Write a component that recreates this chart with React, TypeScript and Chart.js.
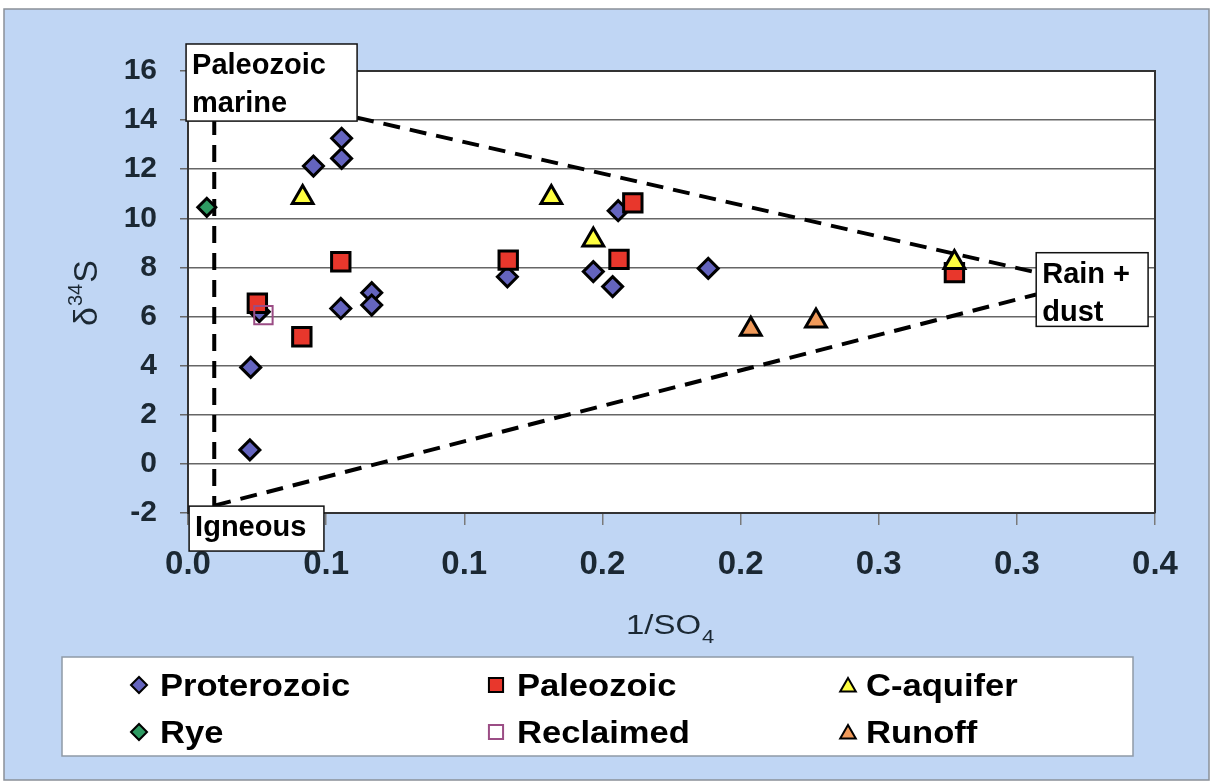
import React, { useEffect, useRef } from 'react';
import { Chart, registerables } from 'chart.js';

Chart.register(...registerables);

// ---------- data ----------
const proterozoicX = [0.0454, 0.0556, 0.0556, 0.1156, 0.0665, 0.0665, 0.0553, 0.0258, 0.0227, 0.0224, 0.1557, 0.1467, 0.1537, 0.1883];
const proterozoicY = [12.13, 13.26, 12.44, 7.62, 6.97, 6.47, 6.33, 6.2, 3.93, 0.57, 10.31, 7.83, 7.22, 7.96];

const paleozoicX = [0.0251, 0.0412, 0.0553, 0.1159, 0.161, 0.156, 0.2774];
const paleozoicY = [6.54, 5.18, 8.23, 8.3, 10.63, 8.33, 7.79];

const cAquiferX = [0.0415, 0.1315, 0.1467, 0.2774];
const cAquiferY = [10.85, 10.85, 9.12, 8.2];

const ryeX = [0.0068];
const ryeY = [10.45];

const reclaimedX = [0.0273];
const reclaimedY = [6.06];

const runoffX = [0.2037, 0.2273];
const runoffY = [5.48, 5.82];

// dashed mixing envelope lines
const verticalLineX = [0.0095, 0.0095];
const verticalLineY = [-2, 14];
const upperLineX = [0.0612, 0.307];
const upperLineY = [14.1, 7.8];
const lowerLineX = [0.0095, 0.307];
const lowerLineY = [-1.7, 6.9];

const xTickLabels = ['0.0', '0.1', '0.1', '0.2', '0.2', '0.3', '0.3', '0.4'];

const seriesNames = ['Proterozoic', 'Paleozoic', 'C-aquifer', 'Rye', 'Reclaimed', 'Runoff'];

// annotation boxes (data coordinates)
const annotationLines = [['Paleozoic', 'marine'], ['Igneous'], ['Rain +', 'dust']];
const annotationX0 = [-0.0007, 0.0004, 0.307];
const annotationX1 = [0.0612, 0.0492, 0.3475];
const annotationYTop = [17.1, -1.72, 8.6];
const annotationYBottom = [13.96, -3.55, 5.6];

// ---------- styles ----------
const FONT = '"Liberation Sans", Arial, Helvetica, sans-serif';
const INK = '#1b2833';
const BLUE = '#c0d6f4';

const seriesStyles = [
  { shape: 'rectRot', fill: '#6464be', stroke: '#000', r: 10 },
  { shape: 'rect', fill: '#e8372c', stroke: '#000', r: 13 },
  { shape: 'triangle', fill: '#ffff40', stroke: '#000', r: 12 },
  { shape: 'rectRot', fill: '#2e9a62', stroke: '#000', r: 9 },
  { shape: 'rect', fill: 'rgba(0,0,0,0)', stroke: '#9b4d85', r: 13 },
  { shape: 'triangle', fill: '#f09a5a', stroke: '#000', r: 12 },
];

const pts = (xs: number[], ys: number[]) => xs.map((x, i) => ({ x, y: ys[i] }));

function drawMarker(ctx: CanvasRenderingContext2D, shape: string, x: number, y: number, r: number, fill: string, stroke: string, lw: number) {
  ctx.beginPath();
  if (shape === 'rectRot') {
    ctx.moveTo(x - r, y);
    ctx.lineTo(x, y - r);
    ctx.lineTo(x + r, y);
    ctx.lineTo(x, y + r);
    ctx.closePath();
  } else if (shape === 'rect') {
    const s = r * Math.SQRT1_2;
    ctx.rect(x - s, y - s, 2 * s, 2 * s);
  } else {
    const c = Math.cos(Math.PI / 6) * r;
    ctx.moveTo(x, y - r);
    ctx.lineTo(x + c, y + r / 2);
    ctx.lineTo(x - c, y + r / 2);
    ctx.closePath();
  }
  ctx.fillStyle = fill;
  ctx.fill();
  ctx.lineWidth = lw;
  ctx.strokeStyle = stroke;
  ctx.stroke();
}

function stretchText(ctx: CanvasRenderingContext2D, text: string, x: number, y: number, sx: number) {
  ctx.save();
  ctx.translate(x, y);
  ctx.scale(sx, 1);
  ctx.fillText(text, 0, 0);
  ctx.restore();
}

const decorPlugin = {
  id: 'decor',
  beforeDraw(chart: any) {
    const { ctx, chartArea: a, width, height } = chart;
    ctx.save();
    ctx.fillStyle = '#ffffff';
    ctx.fillRect(0, 0, width, height);
    ctx.fillStyle = BLUE;
    ctx.fillRect(4, 9, 1205, 771);
    ctx.strokeStyle = '#8a9098';
    ctx.lineWidth = 1.5;
    ctx.strokeRect(4, 9, 1205, 771);
    ctx.fillStyle = '#ffffff';
    ctx.fillRect(a.left, a.top, a.right - a.left, a.bottom - a.top);
    ctx.restore();
  },
  beforeDatasetsDraw(chart: any) {
    const { ctx, chartArea: a } = chart;
    ctx.save();
    ctx.strokeStyle = '#333';
    ctx.lineWidth = 2;
    ctx.beginPath();
    ctx.moveTo(a.left, a.top);
    ctx.lineTo(a.right, a.top);
    ctx.lineTo(a.right, a.bottom);
    ctx.stroke();
    ctx.restore();
  },
  afterDraw(chart: any) {
    const { ctx } = chart;
    const xs = chart.scales.x;
    const ys = chart.scales.y;
    ctx.save();

    // annotation boxes
    annotationLines.forEach((lines, i) => {
      const l = xs.getPixelForValue(annotationX0[i]);
      const r = xs.getPixelForValue(annotationX1[i]);
      const t = ys.getPixelForValue(annotationYTop[i]);
      const b = ys.getPixelForValue(annotationYBottom[i]);
      ctx.fillStyle = '#ffffff';
      ctx.fillRect(l, t, r - l, b - t);
      ctx.strokeStyle = '#111';
      ctx.lineWidth = 1.5;
      ctx.strokeRect(l, t, r - l, b - t);
      ctx.fillStyle = '#000';
      ctx.font = `bold 29px ${FONT}`;
      ctx.textAlign = 'left';
      ctx.textBaseline = 'alphabetic';
      lines.forEach((txt, k) => {
        ctx.fillText(txt, l + 6, t + 30 + k * 38);
      });
    });

    // y-axis title: δ34S (rotated)
    ctx.save();
    ctx.translate(97, 293);
    ctx.rotate(-Math.PI / 2);
    ctx.fillStyle = INK;
    ctx.textBaseline = 'alphabetic';
    ctx.textAlign = 'left';
    const bigF = `34px ${FONT}`;
    const supF = `20px ${FONT}`;
    ctx.font = bigF;
    const wD = ctx.measureText('δ').width;
    const wS = ctx.measureText('S').width;
    ctx.font = supF;
    const w34 = ctx.measureText('34').width;
    const total = wD + w34 + wS + 2;
    let cx = -total / 2;
    ctx.font = bigF;
    ctx.fillText('δ', cx, 0);
    cx += wD + 1;
    ctx.font = supF;
    ctx.fillText('34', cx, -15);
    cx += w34 + 1;
    ctx.font = bigF;
    ctx.fillText('S', cx, 0);
    ctx.restore();

    // x-axis title: 1/SO4
    ctx.fillStyle = INK;
    ctx.font = `27px ${FONT}`;
    ctx.textAlign = 'left';
    const wMain = ctx.measureText('1/SO').width * 1.22;
    stretchText(ctx, '1/SO', 626, 634, 1.22);
    ctx.font = `18px ${FONT}`;
    stretchText(ctx, '4', 626 + wMain + 1, 643, 1.22);

    // legend
    const lx = 62, ly = 657, lw = 1071, lh = 99;
    ctx.fillStyle = '#ffffff';
    ctx.fillRect(lx, ly, lw, lh);
    ctx.strokeStyle = '#8f9aa6';
    ctx.lineWidth = 1.5;
    ctx.strokeRect(lx, ly, lw, lh);
    const colMarker = [139, 496, 848];
    const colText = [160, 517, 866];
    const rowY = [685, 732];
    seriesNames.forEach((name, i) => {
      const col = i % 3;
      const row = Math.floor(i / 3);
      const st = seriesStyles[i];
      const mr = st.shape === 'rect' ? 10 : st.shape === 'triangle' ? 9 : 8;
      const my = st.shape === 'triangle' ? rowY[row] + 2 : rowY[row];
      drawMarker(ctx, st.shape, colMarker[col], my, mr, st.shape === 'rect' && i === 4 ? '#ffffff' : st.fill, st.stroke, 2);
      ctx.fillStyle = '#000';
      ctx.font = `bold 32px ${FONT}`;
      stretchText(ctx, name, colText[col], rowY[row] + 11, 1.08);
    });

    ctx.restore();
  },
};

export default function App() {
  const canvasRef = useRef<HTMLCanvasElement | null>(null);

  useEffect(() => {
    const canvas = canvasRef.current;
    if (!canvas) return;
    const xsList = [proterozoicX, paleozoicX, cAquiferX, ryeX, reclaimedX, runoffX];
    const ysList = [proterozoicY, paleozoicY, cAquiferY, ryeY, reclaimedY, runoffY];

    const pointSets = seriesNames.map((name, i) => {
      const st = seriesStyles[i];
      return {
        label: name,
        data: pts(xsList[i], ysList[i]),
        showLine: false,
        pointStyle: st.shape,
        pointRadius: st.r,
        pointBackgroundColor: st.fill,
        pointBorderColor: st.stroke,
        pointBorderWidth: i === 4 ? 2 : 3,
        backgroundColor: st.fill,
        borderColor: st.stroke,
        order: 10 - i,
      };
    });

    const lineStyle = {
      showLine: true,
      borderColor: '#000000',
      borderWidth: 4,
      borderDash: [17, 10],
      pointRadius: 0,
      fill: false,
      order: 50,
    };

    const chart = new Chart(canvas, {
      type: 'scatter',
      data: {
        datasets: [
          ...pointSets,
          { label: 'v', data: pts(verticalLineX, verticalLineY), ...lineStyle },
          { label: 'u', data: pts(upperLineX, upperLineY), ...lineStyle },
          { label: 'l', data: pts(lowerLineX, lowerLineY), ...lineStyle },
        ] as any,
      },
      options: {
        animation: false,
        responsive: false,
        events: [],
        layout: { padding: { left: 0, top: 71, right: 58, bottom: 0 } },
        plugins: {
          legend: { display: false },
          tooltip: { enabled: false },
          title: { display: false },
        },
        scales: {
          x: {
            type: 'linear',
            min: 0,
            max: 0.35,
            afterFit: (s: any) => { s.height = 271; },
            ticks: {
              stepSize: 0.05,
              autoSkip: false,
              maxRotation: 0,
              callback: (_v: any, i: number) => xTickLabels[i],
              font: { family: FONT, size: 33, weight: 'bold' },
              color: INK,
              padding: 20,
            },
            grid: { drawOnChartArea: false, drawTicks: true, tickLength: 12, color: '#7a7a7a', lineWidth: 1.5 },
            border: { display: true, color: '#333', width: 2 },
          },
          y: {
            type: 'linear',
            min: -2,
            max: 16,
            afterFit: (s: any) => { s.width = 188; },
            ticks: {
              stepSize: 2,
              autoSkip: false,
              font: { family: FONT, size: 30, weight: 'bold' },
              color: INK,
              padding: 23,
            },
            grid: { color: '#666', lineWidth: 1.5, tickLength: 8 },
            border: { display: true, color: '#333', width: 2 },
          },
        },
      } as any,
      plugins: [decorPlugin],
    });
    return () => chart.destroy();
  }, []);

  return (
    <div style={{ position: 'fixed', left: 0, top: 0, width: 1213, height: 784 }}>
      <canvas ref={canvasRef} width={1213} height={784} style={{ display: 'block' }} />
    </div>
  );
}
